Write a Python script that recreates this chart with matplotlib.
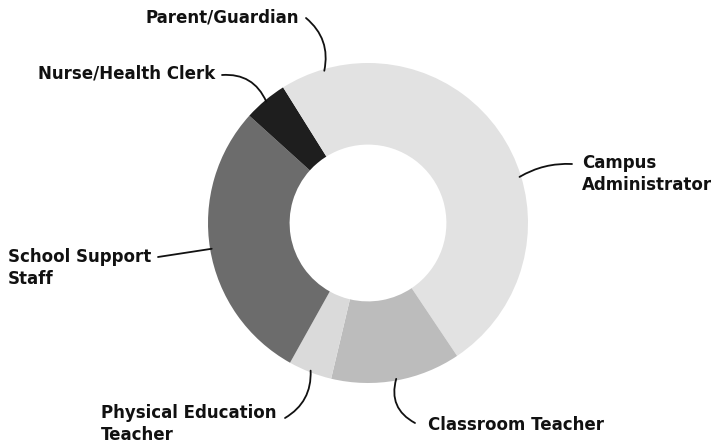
import numpy as np
import matplotlib
matplotlib.use('Agg')
import matplotlib.pyplot as plt

# slices, clockwise from 12 o'clock
labels = ['Campus\nAdministrator', 'Classroom Teacher', 'Physical Education\nTeacher',
          'School Support\nStaff', 'Nurse/Health Clerk', 'Parent/Guardian']
values = [40.6, 13.1, 4.4, 28.6, 4.4, 8.9]
colors = ['#e2e2e2', '#bcbcbc', '#dadada', '#6c6c6c', '#1e1e1e', '#e2e2e2']

# label text anchor (figure pixels, y from top), alignment, leader arc, leader start
label_pos = [(582, 174, 'left', 0.15, (572, 164)),
             (428, 425, 'left', -0.4, (415, 423)),
             (101, 424, 'left', 0.3, (285, 418)),
             (8, 268, 'left', 0.0, (158, 257)),
             (215, 73, 'right', -0.35, (222, 75)),
             (299, 17, 'right', -0.3, (306, 18))]

W, H = 717, 447
fig = plt.figure(figsize=(W / 100, H / 100), dpi=100)
cx, cy, r = 368, 223, 160
ax = fig.add_axes([(cx - r) / W, (H - cy - r) / H, 2 * r / W, 2 * r / H])
wedges, _ = ax.pie(values, colors=colors, startangle=90, counterclock=False,
                   radius=1, wedgeprops=dict(width=0.51, linewidth=0))
ax.set_xlim(-1, 1)
ax.set_ylim(-1, 1)
ax.set_aspect('equal')
ax.axis('off')

for w, lab, (tx, ty, ha, rad, start) in zip(wedges, labels, label_pos):
    mid = np.deg2rad((w.theta1 + w.theta2) / 2)
    px, py = np.cos(mid) * 0.99, np.sin(mid) * 0.99
    fig.text(tx / W, 1 - ty / H, lab, ha=ha, va='center', fontsize=12,
             fontweight='bold', family='DejaVu Sans', color='#111111',
             linespacing=1.25)
    ax.annotate('', xy=(px, py), xycoords='data',
                xytext=(start[0], H - start[1]), textcoords='figure pixels',
                arrowprops=dict(arrowstyle='-', color='#111111', lw=1.3,
                                shrinkA=0, shrinkB=0,
                                connectionstyle=f'arc3,rad={rad}'),
                annotation_clip=False)

fig.savefig('out.png', dpi=100, facecolor='white')
